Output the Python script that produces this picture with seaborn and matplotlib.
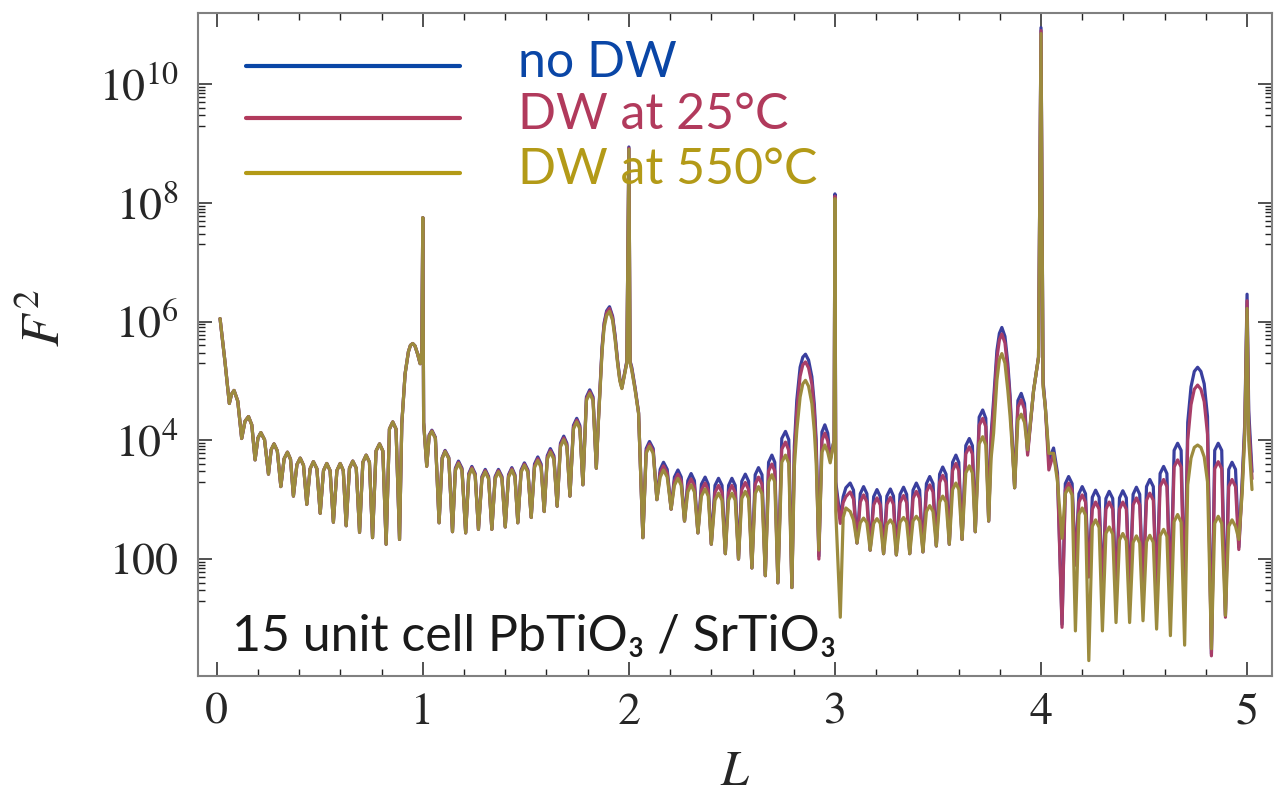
import numpy as np
import matplotlib
matplotlib.use("Agg")
import matplotlib.pyplot as plt
from matplotlib.lines import Line2D
from matplotlib.ticker import FixedLocator, FixedFormatter, MultipleLocator, NullFormatter
import seaborn as sns

# ---------------------------------------------------------------------------
# Crystal truncation rod intensity F^2 versus L (values stored as log10 F^2)
# ---------------------------------------------------------------------------
L_seg_a = [0.016, 0.040, 0.061, 0.072, 0.084, 0.102, 0.121, 0.137, 0.154, 0.170,
           0.186, 0.200, 0.214, 0.232, 0.251, 0.264, 0.278, 0.294, 0.311, 0.327,
           0.343, 0.358, 0.372, 0.389, 0.405, 0.421, 0.437, 0.453, 0.469, 0.486,
           0.502, 0.518, 0.534, 0.550, 0.566, 0.583, 0.599, 0.614, 0.628, 0.644,
           0.660, 0.677, 0.693, 0.709, 0.725, 0.741, 0.756, 0.773, 0.790, 0.806,
           0.822, 0.838, 0.854, 0.870, 0.887, 0.898, 0.914, 0.930, 0.940, 0.951,
           0.962, 0.975, 0.987, 0.995, 1.000, 1.004]
L_seg_b = [1.019, 1.031, 1.044, 1.061, 1.079, 1.094, 1.108, 1.126, 1.144, 1.158,
           1.173, 1.190, 1.208, 1.223, 1.238, 1.254, 1.270, 1.287, 1.303, 1.319,
           1.335, 1.351, 1.367, 1.384, 1.400, 1.416, 1.432, 1.447, 1.461, 1.477,
           1.493, 1.510, 1.526, 1.542, 1.558, 1.574, 1.589, 1.604, 1.619, 1.636,
           1.652, 1.668, 1.684, 1.699, 1.714, 1.731, 1.747, 1.762, 1.777, 1.794,
           1.810, 1.826, 1.842, 1.852, 1.861, 1.870, 1.880, 1.892, 1.906, 1.921,
           1.933, 1.945, 1.956, 1.966, 1.990, 2.000, 2.006, 2.014, 2.030, 2.047]
L_seg_c = [2.068, 2.084, 2.100, 2.118, 2.136, 2.152, 2.168, 2.186, 2.205, 2.221,
           2.238, 2.254, 2.270, 2.286, 2.302, 2.318, 2.335, 2.352, 2.370, 2.385,
           2.400, 2.418, 2.435, 2.452, 2.468, 2.484, 2.500, 2.516, 2.532, 2.548,
           2.565, 2.581, 2.597, 2.613, 2.629, 2.646, 2.662, 2.678, 2.694, 2.708,
           2.723, 2.742, 2.760, 2.776, 2.791, 2.803, 2.815, 2.831, 2.844, 2.857,
           2.872, 2.888, 2.900, 2.909, 2.922, 2.937, 2.951, 2.965, 2.977, 2.996,
           3.000, 3.004, 3.026]
L_seg_d = [3.040, 3.053, 3.074, 3.090, 3.107, 3.123, 3.139, 3.155, 3.171, 3.188,
           3.204, 3.220, 3.236, 3.252, 3.269, 3.284, 3.298, 3.316, 3.333, 3.348,
           3.363, 3.379, 3.395, 3.411, 3.427, 3.444, 3.460, 3.476, 3.492, 3.508,
           3.523, 3.539, 3.555, 3.571, 3.587, 3.601, 3.617, 3.635, 3.652, 3.667,
           3.681, 3.700, 3.717, 3.732, 3.746, 3.758, 3.770, 3.786, 3.798, 3.810,
           3.825, 3.839, 3.850, 3.858, 3.872, 3.888, 3.904, 3.920, 3.935, 3.964,
           3.988]
L_seg_e = [4.000, 4.010, 4.021, 4.038, 4.061, 4.080, 4.102, 4.118, 4.134, 4.151,
           4.167, 4.184, 4.200, 4.216, 4.232, 4.249, 4.265, 4.282, 4.298, 4.315,
           4.331, 4.348, 4.364, 4.381, 4.397, 4.414, 4.430, 4.447, 4.463, 4.479,
           4.495, 4.512, 4.528, 4.545, 4.561, 4.578, 4.595, 4.611, 4.628, 4.646,
           4.663, 4.680, 4.697, 4.712, 4.728, 4.744, 4.760, 4.776, 4.792, 4.808,
           4.827, 4.843, 4.860, 4.877, 4.895, 4.911, 4.927, 4.944, 4.960, 4.976,
           4.989, 5.000, 5.008, 5.024]

# 0 < L < 1: the three models coincide
logF2_seg_a = [6.05, 5.32, 4.62, 4.78, 4.84, 4.66, 4.03, 4.32, 4.40, 4.26,
               3.67, 4.04, 4.13, 4.01, 3.43, 3.84, 3.94, 3.82, 3.22, 3.69,
               3.80, 3.68, 3.06, 3.59, 3.70, 3.58, 2.92, 3.52, 3.64, 3.52,
               2.77, 3.49, 3.61, 3.49, 2.62, 3.49, 3.61, 3.49, 2.56, 3.53,
               3.65, 3.53, 2.45, 3.63, 3.75, 3.63, 2.36, 3.82, 3.94, 3.82,
               2.25, 4.19, 4.31, 4.19, 2.33, 4.28, 5.12, 5.49, 5.60, 5.63,
               5.59, 5.45, 5.29, 5.50, 7.75, 4.30]

# no domain walls
logF2_nodw = logF2_seg_a + [
    # 1 < L < 2
    3.57, 4.09, 4.17, 4.05, 2.61, 3.71, 3.83, 3.71, 2.46, 3.53,
    3.65, 3.53, 2.44, 3.44, 3.56, 3.44, 2.50, 3.39, 3.51, 3.39,
    2.50, 3.39, 3.51, 3.39, 2.54, 3.42, 3.54, 3.42, 2.61, 3.50,
    3.62, 3.50, 2.70, 3.60, 3.72, 3.60, 2.80, 3.74, 3.86, 3.74,
    2.89, 3.95, 4.07, 3.95, 3.06, 4.25, 4.37, 4.25, 3.25, 4.73,
    4.85, 4.73, 3.53, 4.34, 4.96, 5.58, 5.98, 6.18, 6.25, 6.09,
    5.77, 5.35, 5.04, 4.89, 5.33, 8.94, 5.33, 5.23, 4.89, 4.47,
    # 2 < L < 3
    2.36, 3.86, 3.98, 3.86, 3.00, 3.51, 3.63, 3.51, 2.84, 3.38,
    3.50, 3.38, 2.64, 3.32, 3.44, 3.32, 2.44, 3.26, 3.38, 3.26,
    2.25, 3.24, 3.36, 3.24, 2.09, 3.24, 3.36, 3.24, 2.00, 3.31,
    3.43, 3.31, 1.85, 3.42, 3.54, 3.42, 1.72, 3.63, 3.75, 3.63,
    1.60, 4.03, 4.15, 4.01, 1.52, 3.90, 4.68, 5.23, 5.40, 5.45,
    5.35, 5.07, 4.60, 4.00, 2.05, 4.14, 4.26, 4.12, 3.70, 4.00,
    8.15, 3.30, 2.68,
    # 3 < L < 4
    3.05, 3.20, 3.28, 3.16, 2.27, 3.10, 3.22, 3.10, 2.15, 3.05,
    3.17, 3.05, 2.09, 3.06, 3.18, 3.06, 2.07, 3.09, 3.21, 3.09,
    2.09, 3.16, 3.28, 3.16, 2.12, 3.27, 3.39, 3.27, 2.22, 3.43,
    3.55, 3.43, 2.25, 3.63, 3.75, 3.63, 2.33, 3.91, 4.03, 3.91,
    2.46, 4.39, 4.51, 4.37, 2.64, 4.10, 4.68, 5.51, 5.80, 5.90,
    5.75, 5.29, 4.75, 4.17, 3.20, 4.67, 4.79, 4.62, 3.80, 4.84,
    5.40,
    # 4 < L < 5
    10.95, 5.00, 4.56, 3.67, 3.87, 3.45, 0.90, 3.27, 3.39, 3.27,
    1.90, 3.10, 3.22, 3.10, 1.70, 3.04, 3.16, 3.04, 1.50, 3.02,
    3.14, 3.02, 1.45, 3.03, 3.15, 3.03, 1.45, 3.09, 3.21, 3.09,
    1.45, 3.22, 3.34, 3.22, 1.40, 3.44, 3.56, 3.44, 1.35, 3.83,
    3.95, 3.83, 1.30, 4.30, 4.90, 5.16, 5.23, 5.16, 4.95, 4.40,
    0.40, 3.83, 3.95, 3.83, 1.05, 3.51, 3.63, 3.51, 2.20, 3.30,
    4.30, 6.46, 4.50, 3.47]

# domain walls, 25 C
logF2_dw25 = logF2_seg_a + [
    # 1 < L < 2
    3.56, 4.08, 4.16, 4.04, 2.61, 3.70, 3.82, 3.70, 2.46, 3.51,
    3.63, 3.51, 2.44, 3.42, 3.54, 3.42, 2.50, 3.37, 3.49, 3.37,
    2.50, 3.37, 3.49, 3.37, 2.54, 3.40, 3.52, 3.40, 2.61, 3.48,
    3.60, 3.48, 2.70, 3.57, 3.69, 3.57, 2.80, 3.71, 3.83, 3.71,
    2.89, 3.92, 4.04, 3.92, 3.06, 4.22, 4.34, 4.22, 3.25, 4.70,
    4.82, 4.70, 3.53, 4.32, 4.93, 5.54, 5.95, 6.15, 6.22, 6.06,
    5.74, 5.33, 5.02, 4.88, 5.32, 8.92, 5.32, 5.20, 4.87, 4.46,
    # 2 < L < 3
    2.36, 3.82, 3.94, 3.82, 3.00, 3.45, 3.57, 3.45, 2.84, 3.31,
    3.43, 3.31, 2.64, 3.23, 3.35, 3.23, 2.44, 3.16, 3.28, 3.16,
    2.25, 3.12, 3.24, 3.12, 2.09, 3.12, 3.24, 3.12, 2.00, 3.17,
    3.29, 3.17, 1.85, 3.26, 3.38, 3.26, 1.72, 3.48, 3.60, 3.48,
    1.60, 3.85, 3.97, 3.83, 1.52, 3.75, 4.50, 5.08, 5.27, 5.32,
    5.22, 4.95, 4.48, 3.85, 2.00, 4.00, 4.12, 3.99, 3.66, 4.00,
    8.11, 3.20, 2.60,
    # 3 < L < 4
    2.95, 3.05, 3.13, 3.01, 2.27, 2.96, 3.08, 2.96, 2.15, 2.91,
    3.03, 2.91, 2.09, 2.92, 3.04, 2.92, 2.07, 2.95, 3.07, 2.95,
    2.09, 3.02, 3.14, 3.02, 2.12, 3.13, 3.25, 3.13, 2.22, 3.29,
    3.41, 3.29, 2.25, 3.49, 3.61, 3.49, 2.33, 3.77, 3.89, 3.77,
    2.46, 4.25, 4.37, 4.23, 2.64, 4.00, 4.55, 5.38, 5.69, 5.79,
    5.64, 5.18, 4.66, 4.10, 3.20, 4.56, 4.68, 4.52, 3.75, 4.84,
    5.40,
    # 4 < L < 5
    10.90, 4.95, 4.56, 3.50, 3.78, 3.38, 0.85, 3.16, 3.28, 3.16,
    1.90, 2.96, 3.08, 2.96, 1.70, 2.84, 2.96, 2.84, 1.50, 2.84,
    2.96, 2.84, 1.45, 2.84, 2.96, 2.84, 1.45, 2.91, 3.03, 2.91,
    1.45, 2.99, 3.11, 2.99, 1.40, 3.22, 3.34, 3.22, 1.35, 3.55,
    3.67, 3.55, 1.30, 4.00, 4.60, 4.86, 4.93, 4.86, 4.65, 4.10,
    0.37, 3.52, 3.64, 3.52, 1.02, 3.22, 3.34, 3.22, 2.16, 3.20,
    4.20, 6.35, 4.30, 3.35]

# domain walls, 550 C
logF2_dw550 = logF2_seg_a + [
    # 1 < L < 2
    3.56, 4.07, 4.15, 4.03, 2.61, 3.69, 3.81, 3.69, 2.46, 3.49,
    3.61, 3.49, 2.44, 3.40, 3.52, 3.40, 2.50, 3.35, 3.47, 3.35,
    2.50, 3.35, 3.47, 3.35, 2.54, 3.38, 3.50, 3.38, 2.61, 3.46,
    3.58, 3.46, 2.70, 3.54, 3.66, 3.54, 2.80, 3.68, 3.80, 3.68,
    2.89, 3.89, 4.01, 3.89, 3.06, 4.19, 4.31, 4.19, 3.25, 4.67,
    4.79, 4.67, 3.53, 4.30, 4.90, 5.50, 5.90, 6.10, 6.17, 6.02,
    5.70, 5.30, 5.00, 4.87, 5.30, 8.90, 5.30, 5.18, 4.85, 4.45,
    # 2 < L < 3
    2.36, 3.78, 3.90, 3.78, 3.00, 3.38, 3.50, 3.38, 2.84, 3.24,
    3.36, 3.24, 2.64, 3.13, 3.25, 3.13, 2.44, 3.06, 3.18, 3.06,
    2.25, 2.99, 3.11, 2.99, 2.09, 2.99, 3.11, 2.99, 2.00, 3.02,
    3.14, 3.02, 1.85, 3.10, 3.22, 3.10, 1.72, 3.30, 3.42, 3.30,
    1.60, 3.63, 3.75, 3.61, 1.52, 3.55, 4.17, 4.73, 4.95, 5.01,
    4.91, 4.62, 4.15, 3.61, 2.15, 3.80, 3.92, 3.80, 3.62, 4.00,
    8.07, 2.80, 1.02,
    # 3 < L < 4
    2.70, 2.86, 2.80, 2.66, 2.27, 2.61, 2.69, 2.61, 2.15, 2.60,
    2.68, 2.60, 2.09, 2.58, 2.66, 2.58, 2.07, 2.62, 2.70, 2.62,
    2.09, 2.64, 2.72, 2.64, 2.12, 2.80, 2.90, 2.80, 2.22, 2.96,
    3.06, 2.96, 2.25, 3.17, 3.28, 3.17, 2.33, 3.45, 3.57, 3.45,
    2.46, 3.94, 4.06, 3.92, 2.64, 3.70, 4.12, 5.01, 5.36, 5.46,
    5.30, 4.84, 4.40, 4.00, 3.20, 4.34, 4.44, 4.30, 3.84, 4.84,
    5.40,
    # 4 < L < 5
    10.85, 4.90, 4.56, 3.78, 3.78, 3.30, 2.35, 3.10, 3.20, 3.08,
    0.79, 2.75, 2.86, 2.74, 0.29, 2.55, 2.66, 2.53, 0.79, 2.43,
    2.54, 2.42, 0.93, 2.32, 2.43, 2.31, 0.93, 2.28, 2.39, 2.27,
    0.96, 2.29, 2.40, 2.28, 0.82, 2.39, 2.50, 2.38, 0.71, 2.63,
    2.75, 2.62, 0.55, 3.25, 3.70, 3.88, 3.92, 3.88, 3.72, 3.30,
    0.49, 2.60, 2.72, 2.60, 1.05, 2.55, 2.66, 2.55, 2.33, 3.10,
    4.10, 6.22, 4.00, 3.17]

L_values = L_seg_a + L_seg_b + L_seg_c + L_seg_d + L_seg_e

series_labels = ["no DW", "DW at 25°C", "DW at 550°C"]
series_logs = [logF2_nodw, logF2_dw25, logF2_dw550]
curve_colors = ["#3a3f9e", "#a83e68", "#9c8b3e"]
legend_colors = ["#0a46a6", "#b13a5c", "#b39a17"]

for s in series_logs:
    if len(s) != len(L_values):
        raise ValueError(f"series length {len(s)} != {len(L_values)}")

# ---------------------------------------------------------------------------
sns.set_style("ticks")
plt.rcParams["mathtext.fontset"] = "stix"
plt.rcParams["font.family"] = ["STIXGeneral", "DejaVu Sans"]

W, H = 1276, 795
fig = plt.figure(figsize=(W / 100, H / 100), dpi=100)
ax_l, ax_r, ax_t, ax_b = 198, 1272, 13.4, 676
ax = fig.add_axes([ax_l / W, 1 - ax_b / H, (ax_r - ax_l) / W, (ax_b - ax_t) / H])
ax.set_yscale("log")

L_arr = np.array(L_values)
for logs, col in zip(series_logs, curve_colors):
    sns.lineplot(x=L_arr, y=10.0 ** np.array(logs), color=col, linewidth=2.3,
                 estimator=None, sort=False, ax=ax, legend=False,
                 solid_joinstyle="round")

ax.set_xlim(-0.091, 5.121)
ax.set_ylim(10 ** 0.03, 10 ** 11.19)

# x ticks
ax.xaxis.set_major_locator(FixedLocator([0, 1, 2, 3, 4, 5]))
ax.xaxis.set_major_formatter(FixedFormatter(["0", "1", "2", "3", "4", "5"]))
ax.xaxis.set_minor_locator(MultipleLocator(0.2))

# y ticks
y_major = [1e2, 1e4, 1e6, 1e8, 1e10]
y_labels = ["100", r"$10^{4}$", r"$10^{6}$", r"$10^{8}$", r"$10^{10}$"]
ax.yaxis.set_major_locator(FixedLocator(y_major))
ax.yaxis.set_major_formatter(FixedFormatter(y_labels))
y_minor = [k * 10.0 ** e for e in (1, 3, 5, 7, 9) for k in range(2, 10)]
ax.yaxis.set_minor_locator(FixedLocator(y_minor))
ax.yaxis.set_minor_formatter(NullFormatter())

ax.tick_params(which="both", direction="in", top=True, right=True,
               color="#222222", labelsize=33)
ax.tick_params(which="major", length=10, width=1.1)
ax.tick_params(which="minor", length=5, width=1.0)
ax.tick_params(axis="x", which="major", pad=12)
ax.tick_params(axis="y", which="major", pad=14)

for sp in ax.spines.values():
    sp.set_color("#808080")
    sp.set_linewidth(1.5)

ax.set_ylabel(r"$F^2$", fontsize=38)
ax.yaxis.set_label_coords(-0.1175, 0.54)
ax.set_xlabel(r"$L$", fontsize=36)
ax.xaxis.set_label_coords(0.5, -0.112)

# legend drawn by hand
legend_y = [66, 118, 173]
for yy, col, lab in zip(legend_y, legend_colors, series_labels):
    fig.add_artist(Line2D([246 / W, 460 / W], [1 - yy / H, 1 - yy / H],
                          color=col, linewidth=3.0, transform=fig.transFigure))
    fig.text(518 / W, 1 - (yy + 11) / H, lab, color=col, fontsize=36,
             family=["Lato", "DejaVu Sans"], ha="left", va="baseline")

fig.text(232 / W, 1 - 651 / H, "15 unit cell PbTiO₃ / SrTiO₃", color="#1a1a1a",
         fontsize=36, family=["Lato", "Noto Sans", "DejaVu Sans"],
         ha="left", va="baseline")

fig.savefig("out.png", dpi=100)
